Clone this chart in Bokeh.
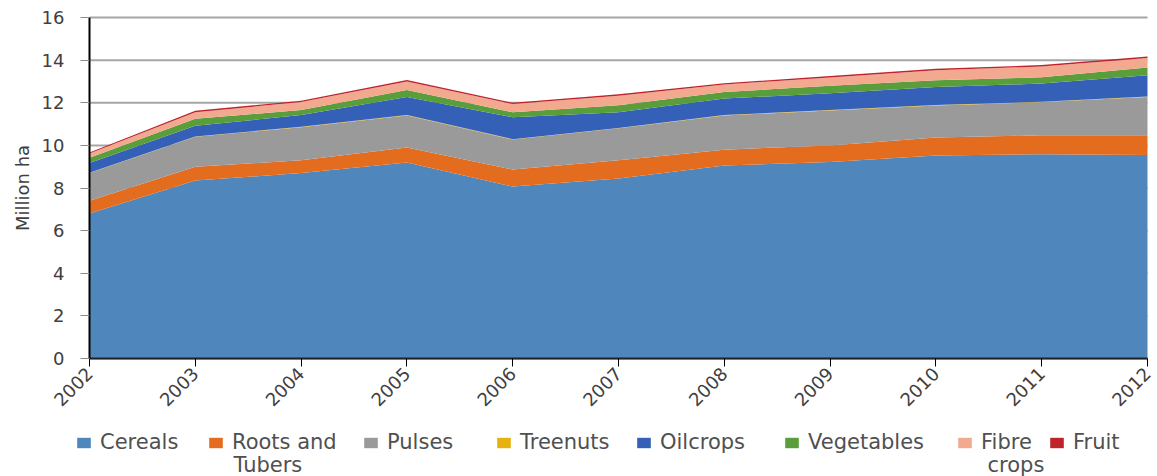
from bokeh.plotting import figure
from bokeh.models import ColumnDataSource, Range1d, FixedTicker, Legend, Label
from bokeh.embed import file_html
from bokeh.resources import INLINE
import math

years = [2002, 2003, 2004, 2005, 2006, 2007, 2008, 2009, 2010, 2011, 2012]
cereals = [6.80, 8.35, 8.70, 9.20, 8.07, 8.45, 9.06, 9.22, 9.53, 9.58, 9.55]
roots = [0.60, 0.65, 0.60, 0.70, 0.80, 0.85, 0.74, 0.78, 0.84, 0.89, 0.92]
pulses = [1.30, 1.40, 1.55, 1.50, 1.40, 1.50, 1.60, 1.64, 1.50, 1.56, 1.80]
treenuts = [0.02, 0.02, 0.02, 0.02, 0.02, 0.02, 0.02, 0.02, 0.02, 0.02, 0.02]
oilcrops = [0.45, 0.50, 0.55, 0.85, 1.03, 0.74, 0.78, 0.78, 0.85, 0.85, 1.00]
vegetables = [0.25, 0.33, 0.24, 0.33, 0.23, 0.32, 0.30, 0.36, 0.31, 0.30, 0.36]
fibre = [0.20, 0.31, 0.37, 0.40, 0.39, 0.45, 0.36, 0.39, 0.48, 0.50, 0.45]
fruit = [0.05, 0.06, 0.06, 0.07, 0.06, 0.07, 0.06, 0.06, 0.06, 0.07, 0.07]

keys = ["cereals", "roots", "pulses", "treenuts", "oilcrops", "vegetables", "fibre", "fruit"]
labels = ["Cereals", "Roots and", "Pulses", "Treenuts", "Oilcrops", "Vegetables", "Fibre", "Fruit"]
second_lines = ["", "Tubers", "", "", "", "", "crops", ""]
colors = ["#4f87bd", "#e46c1e", "#9a9a9a", "#e8b20e", "#3460b8", "#5a9e3c", "#f2a98f", "#c0232b"]
y_ticks = [0, 2, 4, 6, 8, 10, 12, 14, 16]

source = ColumnDataSource(dict(year=years, cereals=cereals, roots=roots, pulses=pulses,
                               treenuts=treenuts, oilcrops=oilcrops, vegetables=vegetables,
                               fibre=fibre, fruit=fruit))

FONT = "DejaVu Sans"

# The frame fills the whole canvas (so nothing is clipped); axes are pinned at
# x = 2002 and y = 0, and the ranges are padded so the chart area sits where
# the reference puts it.
p = figure(width=1157, height=476, output_backend="svg", toolbar_location=None,
           x_range=Range1d(2001.1588, 2012.0945), y_range=Range1d(-5.5367, 16.7977),
           min_border=0)
p.outline_line_color = None
p.background_fill_color = "white"

# horizontal gridlines limited to the plotting area
p.segment(x0=years[0], x1=years[-1], y0=y_ticks, y1=y_ticks,
          line_color="#a6a6a6", line_width=2, level="underlay")

renderers = p.varea_stack(stackers=keys, x="year", color=colors, source=source)

# axes
p.yaxis.ticker = FixedTicker(ticks=y_ticks)
p.yaxis.bounds = (0, 16)
p.yaxis.fixed_location = 2002
p.xaxis.ticker = FixedTicker(ticks=years)
p.xaxis.bounds = (2002, 2012)
p.xaxis.fixed_location = 0
p.yaxis.axis_label = "Million ha"
p.yaxis.axis_label_text_font = FONT
p.yaxis.axis_label_text_font_size = "18px"
p.yaxis.axis_label_text_font_style = "normal"
p.yaxis.axis_label_text_color = "#404040"
p.yaxis.axis_label_standoff = 6
for ax in (p.xaxis, p.yaxis):
    ax.major_label_text_font = FONT
    ax.major_label_text_font_size = "18px"
    ax.major_label_text_color = "#404040"
    ax.minor_tick_line_color = None
    ax.major_tick_in = 0
p.yaxis.major_tick_out = 9
p.yaxis.major_tick_line_color = "#8c8c8c"
p.yaxis.major_label_standoff = 16
p.yaxis.axis_line_color = "black"
p.yaxis.axis_line_width = 2
p.xaxis.major_tick_out = 8
p.xaxis.major_tick_line_color = "black"
p.xaxis.axis_line_color = "#222222"
p.xaxis.axis_line_width = 2
p.xaxis.major_label_orientation = math.pi / 4
p.xaxis.major_label_standoff = 4

p.xgrid.grid_line_color = None
p.ygrid.grid_line_color = None

# legend: one entry per legend object so each sits where the reference puts it
square_x = [77, 209, 364, 497, 637, 785, 958, 1050]
second_shift = [0, 0, 0, 0, 0, 0, 5, 0]
legend_bottom = 22
for lab, r, sx, second, sh in zip(labels, renderers, square_x, second_lines, second_shift):
    lg = Legend(items=[(lab, [r])], orientation="horizontal", location=(sx - 2, legend_bottom))
    lg.label_text_font = FONT
    lg.label_text_font_size = "21px"
    lg.label_text_color = "#505050"
    lg.glyph_width = 17
    lg.glyph_height = 13
    lg.label_standoff = 8
    lg.padding = 0
    lg.margin = 0
    lg.border_line_color = None
    lg.background_fill_alpha = 0
    p.add_layout(lg)
    if second:
        p.add_layout(Label(x=sx + 24 + sh, y=12, x_units="screen", y_units="screen", text=second,
                           text_font=FONT, text_font_size="21px", text_color="#505050",
                           text_baseline="middle", text_align="left"))

open("out.html", "w").write(file_html(p, INLINE))
